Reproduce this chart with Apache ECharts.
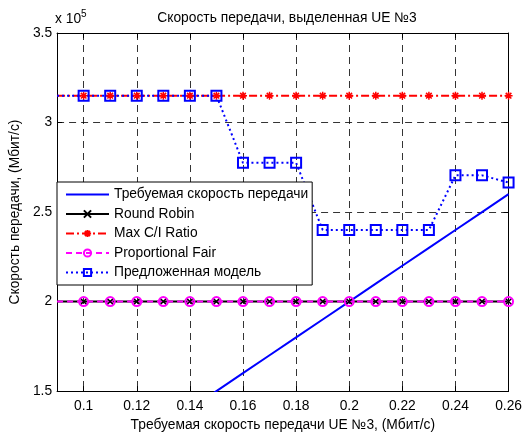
<!DOCTYPE html>
<html><head><meta charset="utf-8">
<script src="https://cdn.jsdelivr.net/npm/echarts@6/dist/echarts.min.js"></script>
<style>html,body{margin:0;padding:0;background:#fff}#c{width:525px;height:437px}</style>
</head><body><div id="c"></div>
<script>
var xValues = [0.09,0.10,0.11,0.12,0.13,0.14,0.15,0.16,0.17,0.18,0.19,0.20,0.21,0.22,0.23,0.24,0.25,0.26];
var requiredRate = [90000,100000,110000,120000,130000,140000,150000,160000,170000,180000,190000,200000,210000,220000,230000,240000,250000,260000];
var roundRobin = [200000,200000,200000,200000,200000,200000,200000,200000,200000,200000,200000,200000,200000,200000,200000,200000,200000,200000];
var maxCI = [315000,315000,315000,315000,315000,315000,315000,315000,315000,315000,315000,315000,315000,315000,315000,315000,315000,315000];
var propFair = [200000,200000,200000,200000,200000,200000,200000,200000,200000,200000,200000,200000,200000,200000,200000,200000,200000,200000];
var proposed = [315000,315000,315000,315000,315000,315000,315000,277500,277500,277500,240000,240000,240000,240000,240000,270500,270500,266500];
var xTicks = [0.10,0.12,0.14,0.16,0.18,0.20,0.22,0.24,0.26];
var seriesNames = ['Требуемая скорость передачи','Round Robin','Max C/I Ratio','Proportional Fair','Предложенная модель'];

var FONT = 'Liberation Sans, Arial, sans-serif';
var FS = 13.8;
function pairs(arr, hideFirstSymbol){
  return xValues.map(function(x,i){
    var item = {value:[x, arr[i]]};
    if (hideFirstSymbol && i === 0) item.symbol = 'none';
    return item;
  });
}
var chart = echarts.init(document.getElementById('c'), null, {renderer:'canvas'});
var axisLine = {show:true, onZero:false, lineStyle:{color:'#000', width:1}};
var gridLine = {show:true, lineStyle:{color:'#000', width:0.8, type:[7,5]}};
var option = {
  backgroundColor:'#fff',
  animation:false,
  title:{text:'Скорость передачи, выделенная UE №3', left:282, textAlign:'center', top:6,
    textStyle:{fontFamily:FONT, fontSize:FS, fontWeight:'normal', color:'#000'}},
  graphic:[{type:'text', left:55, top:9, style:{
    text:'x 10{s|5}', rich:{s:{fontSize:10, fontFamily:FONT, verticalAlign:'top', padding:[0,0,10,0]}},
    font:FS + 'px ' + FONT, fill:'#000'}}],
  grid:{left:55, right:16, top:33, bottom:44, containLabel:false},
  legend:{orient:'vertical', left:57, top:182,
    data:[{name:seriesNames[0], icon:'path://M0 0L43 0L43 2L0 2Z'}, seriesNames[1], seriesNames[2], seriesNames[3], seriesNames[4]],
    itemWidth:43, itemHeight:9, itemGap:5.5, padding:[5.5,4,5.5,8],
    backgroundColor:'#fff', borderColor:'#000', borderWidth:1, borderRadius:0,
    textStyle:{fontFamily:FONT, fontSize:FS, lineHeight:14, color:'#000'}},
  xAxis:[{type:'value', min:0.09, max:0.26, position:'bottom',
    name:'Требуемая скорость передачи UE №3, (Мбит/с)', nameLocation:'middle', nameGap:26,
    nameTextStyle:{fontFamily:FONT, fontSize:FS, color:'#000'},
    axisLine:axisLine,
    axisTick:{show:true, inside:true, length:5, customValues:xTicks, lineStyle:{color:'#000'}},
    axisLabel:{customValues:xTicks, fontFamily:FONT, fontSize:FS, color:'#000', margin:8,
      formatter:function(v){return String(+(+v).toFixed(2));}},
    splitLine:gridLine},
   {type:'value', min:0.09, max:0.26, position:'top',
    axisLine:axisLine,
    axisTick:{show:true, inside:true, length:5, customValues:xTicks, lineStyle:{color:'#000'}},
    axisLabel:{show:false}, splitLine:{show:false}}],
  yAxis:[{type:'value', min:150000, max:350000, interval:50000,
    name:'Скорость передачи, (Мбит/с)', nameLocation:'middle', nameGap:31,
    nameTextStyle:{fontFamily:FONT, fontSize:FS, color:'#000'},
    axisLine:axisLine,
    axisTick:{show:true, inside:true, length:5, lineStyle:{color:'#000'}},
    axisLabel:{fontFamily:FONT, fontSize:FS, color:'#000', margin:5,
      formatter:function(v){return String(+(v/1e5).toFixed(1));}},
    splitLine:gridLine},
   {type:'value', min:150000, max:350000, interval:50000, position:'right',
    axisLine:axisLine,
    axisTick:{show:true, inside:true, length:5, lineStyle:{color:'#000'}},
    axisLabel:{show:false}, splitLine:{show:false}}],
  series:[
    {name:seriesNames[0], type:'line', data:pairs(requiredRate,false), symbol:'none', clip:true,
      lineStyle:{color:'#0000ff', width:2}, itemStyle:{color:'#0000ff'}},
    {name:seriesNames[1], type:'line', data:pairs(roundRobin,true), clip:true,
      symbol:'path://M0 0L10 10M10 0L0 10', symbolSize:6,
      lineStyle:{color:'#000', width:2}, itemStyle:{color:'rgba(0,0,0,0)', borderColor:'#000', borderWidth:1.5}},
    {name:seriesNames[2], type:'line', data:pairs(maxCI,true), clip:true,
      symbol:'path://M5 0L5 10M0 5L10 5M1.5 1.5L8.5 8.5M8.5 1.5L1.5 8.5', symbolSize:8,
      lineStyle:{color:'#ff0000', width:2, type:[8,3,2,3]}, itemStyle:{color:'rgba(0,0,0,0)', borderColor:'#ff0000', borderWidth:1.5}},
    {name:seriesNames[3], type:'line', data:pairs(propFair,true), clip:true,
      symbol:'circle', symbolSize:9,
      lineStyle:{color:'#ff00ff', width:2, type:[6,4]}, itemStyle:{color:'rgba(0,0,0,0)', borderColor:'#ff00ff', borderWidth:2}},
    {name:seriesNames[4], type:'line', data:pairs(proposed,true), clip:true,
      symbol:'rect', symbolSize:10,
      lineStyle:{color:'#0000ff', width:2, type:[2,3]}, itemStyle:{color:'rgba(0,0,0,0)', borderColor:'#0000ff', borderWidth:2}}
  ]
};
chart.setOption(option);
</script></body></html>
